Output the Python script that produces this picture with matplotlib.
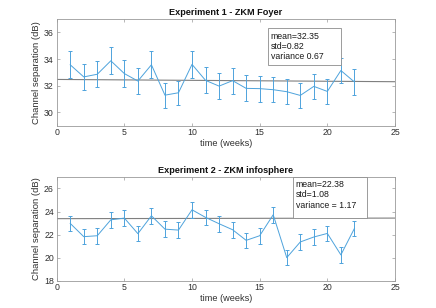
import matplotlib
matplotlib.use("Agg")
import matplotlib.pyplot as plt
from matplotlib.patches import Rectangle

plt.rcParams['font.family'] = ['Liberation Sans', 'DejaVu Sans']

weeks = list(range(1, 23))

exp1_values = [33.57, 32.66, 32.86, 33.87, 32.91, 32.35, 33.57, 31.29, 31.47, 33.60,
               32.40, 31.97, 32.38, 31.80, 31.78, 31.70, 31.55, 31.27, 31.95, 31.57,
               33.14, 32.28]
exp1_err = [1.0, 0.97, 0.97, 1.0, 1.0, 0.95, 1.0, 0.95, 0.92, 1.0,
            0.97, 0.95, 0.97, 0.97, 0.97, 0.95, 0.94, 0.97, 0.95, 0.95,
            0.97, 0.95]
exp1_trend_x = [0, 25]
exp1_trend_y = [32.47, 32.30]
exp1_lines = ["mean=32.35", "std=0.82", "variance 0.67"]

exp2_values = [22.97, 21.82, 21.90, 23.28, 23.43, 22.08, 23.63, 22.47, 22.39, 24.15,
               23.49, 22.94, 22.42, 21.50, 21.90, 23.72, 20.00, 21.36, 21.79, 22.10,
               20.24, 22.53]
exp2_err = [0.68] * 22
exp2_trend_x = [0, 25]
exp2_trend_y = [23.38, 23.43]
exp2_lines = ["mean=22.38", "std=1.08", "variance = 1.17"]

titles = ["Experiment 1 - ZKM Foyer", "Experiment 2 - ZKM infosphere"]
xlabel = "time (weeks)"
ylabel = "Channel separation (dB)"
xticks = [0, 5, 10, 15, 20, 25]
yticks1 = [30, 32, 34, 36]
yticks2 = [18, 20, 22, 24, 26]

line_color = '#4ea3dc'
frame_color = '#9a9a9a'
text_color = '#303030'

fig = plt.figure(figsize=(4.36, 3.08), dpi=100)
ax1 = fig.add_axes([0.130, 0.592, 0.776, 0.346])
ax2 = fig.add_axes([0.130, 0.0886, 0.776, 0.337])

configs = [
    (ax1, exp1_values, exp1_err, exp1_trend_x, exp1_trend_y, exp1_lines, (29, 37), yticks1,
     (0.626, 0.566, 0.215, 0.350), 0.633, [0.834, 0.740, 0.647]),
    (ax2, exp2_values, exp2_err, exp2_trend_x, exp2_trend_y, exp2_lines, (18, 27), yticks2,
     (0.698, 0.605, 0.219, 0.392), 0.707, [0.923, 0.826, 0.723]),
]

for i, (ax, vals, err, tx, ty, lines, ylim, yt, box, txx, tys) in enumerate(configs):
    ax.plot(tx, ty, color='#7f7f7f', lw=0.8, zorder=1)
    ax.errorbar(weeks, vals, yerr=err, color=line_color, lw=0.7, elinewidth=0.7,
                capsize=1.4, capthick=0.7, zorder=2)
    ax.set_xlim(0, 25)
    ax.set_ylim(*ylim)
    ax.set_xticks(xticks)
    ax.set_yticks(yt)
    ax.tick_params(direction='in', length=2.5, width=0.5, colors=frame_color,
                   labelcolor=text_color, labelsize=6.3, top=True, right=True, pad=2)
    for s in ax.spines.values():
        s.set_color(frame_color)
        s.set_linewidth(0.6)
    ax.set_title(titles[i], fontsize=6.6, fontweight='bold', color='#111111', pad=3)
    ax.set_xlabel(xlabel, fontsize=6.6, color=text_color, labelpad=1)
    ax.set_ylabel(ylabel, fontsize=6.8, color=text_color, labelpad=2)
    ax.add_patch(Rectangle((box[0], box[1]), box[2], box[3], transform=ax.transAxes,
                           facecolor='white', edgecolor='#8c8c8c', linewidth=0.6,
                           zorder=5, clip_on=False))
    for line, ly in zip(lines, tys):
        ax.text(txx, ly, line, transform=ax.transAxes, ha='left', va='center',
                fontsize=6.3, color='#1a1a1a', zorder=6)

fig.savefig("out.png", dpi=100)
